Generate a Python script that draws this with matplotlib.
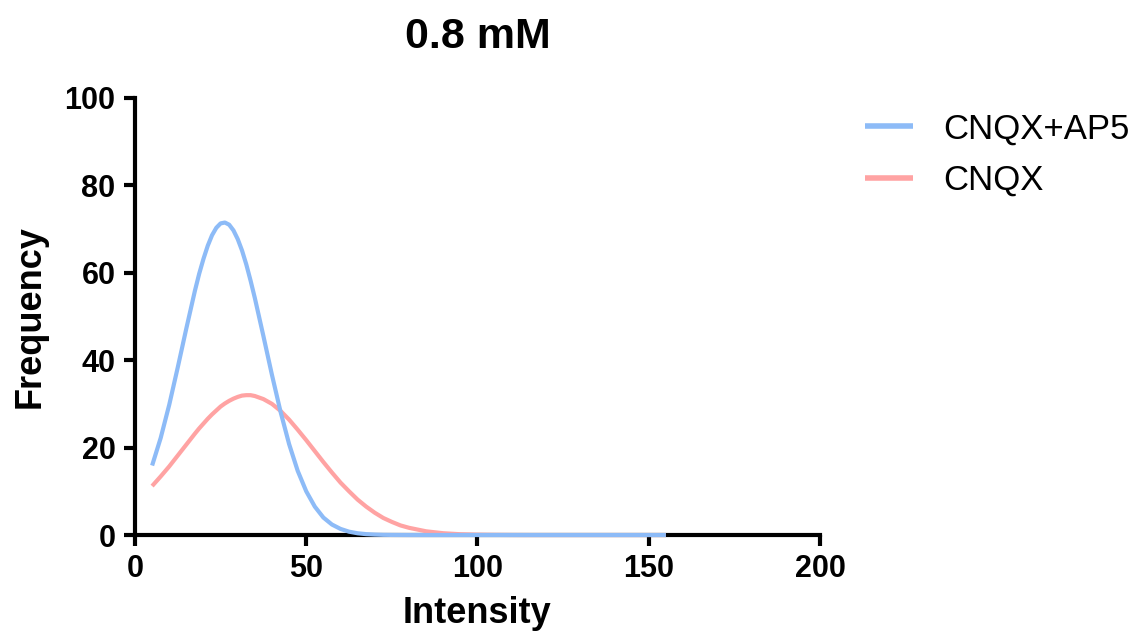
import numpy as np
import matplotlib
matplotlib.use("Agg")
import matplotlib.pyplot as plt

plt.rcParams['font.family'] = ['Liberation Sans', 'DejaVu Sans']

# Gaussian fit curves, sampled along intensity
x_fine = [5, 7.5, 10, 12.5, 15, 17.5, 18.75, 20, 21.25, 22.5, 23.75, 25, 26.25, 27.5, 28.75,
          30, 31.25, 32.5, 33.75, 35, 37.5, 40, 42.5, 45, 47.5, 50, 52.5, 55, 57.5, 60,
          62.5, 65, 67.5, 70, 72.5, 75, 77.5, 80]
x_tail = [85, 90, 95, 100, 105, 110, 115, 120, 125, 130, 135, 140, 145, 150, 155]

cnqx_ap5_fine = [15.9, 22.2, 29.8, 38.4, 47.3, 55.9, 59.8, 63.2, 66.2, 68.6, 70.3, 71.3, 71.5, 71.0, 69.7,
                 67.7, 65.1, 61.9, 58.2, 54.2, 45.5, 36.6, 28.2, 20.8, 14.7, 10.0, 6.5, 4.0, 2.4, 1.4,
                 0.76, 0.40, 0.20, 0.10, 0.04, 0.02, 0.01, 0.0]
cnqx_ap5_tail = [0.0] * 15

cnqx_fine = [11.2, 13.4, 15.7, 18.2, 20.7, 23.2, 24.4, 25.5, 26.6, 27.6, 28.5, 29.4, 30.1, 30.7, 31.2,
             31.6, 31.9, 32.0, 32.0, 31.8, 31.1, 30.0, 28.4, 26.4, 24.1, 21.7, 19.2, 16.7, 14.3, 12.0,
             10.0, 8.1, 6.5, 5.1, 3.9, 3.0, 2.2, 1.65]
cnqx_tail = [0.85, 0.41, 0.18, 0.08, 0.03, 0.01, 0.0, 0.0, 0.0, 0.0, 0.0, 0.0, 0.0, 0.0, 0.0]

intensity = np.array(x_fine + x_tail)
cnqx_ap5 = np.array(cnqx_ap5_fine + cnqx_ap5_tail)
cnqx = np.array(cnqx_fine + cnqx_tail)

blue = '#8DBBF7'
red = '#FFA3A3'

fig = plt.figure(figsize=(11.43, 6.37), dpi=100)
ax = fig.add_axes([0.1181, 0.1601, 0.5993, 0.6861])

ax.plot(intensity, cnqx, color=red, lw=3, clip_on=False, zorder=3, label='CNQX',
        solid_joinstyle='round', solid_capstyle='butt')
ax.plot(intensity, cnqx_ap5, color=blue, lw=3, clip_on=False, zorder=4, label='CNQX+AP5',
        solid_joinstyle='round', solid_capstyle='butt')

ax.set_xlim(0, 200)
ax.set_ylim(0, 100)
ax.set_xticks([0, 50, 100, 150, 200])
ax.set_yticks([0, 20, 40, 60, 80, 100])

for side in ['top', 'right']:
    ax.spines[side].set_visible(False)
for side in ['left', 'bottom']:
    ax.spines[side].set_linewidth(3)
ax.tick_params(axis='both', direction='out', length=8, width=3, labelsize=22, pad=6)
for lbl in ax.get_xticklabels() + ax.get_yticklabels():
    lbl.set_fontweight('bold')

ax.set_xlabel('Intensity', fontsize=26, fontweight='bold', labelpad=8)
ax.set_ylabel('Frequency', fontsize=26, fontweight='bold', labelpad=12)
ax.set_title('0.8 mM', fontsize=31, fontweight='bold', pad=36)

handles, labels = ax.get_legend_handles_labels()
leg = ax.legend(handles[::-1], labels[::-1], loc='upper left', bbox_to_anchor=(1.066, 0.967),
                frameon=False, fontsize=25, borderpad=0, borderaxespad=0,
                handlelength=1.38, handletextpad=0.86, labelspacing=0.54)
for line in leg.get_lines():
    line.set_linewidth(4)

fig.savefig('out.png', dpi=100)
